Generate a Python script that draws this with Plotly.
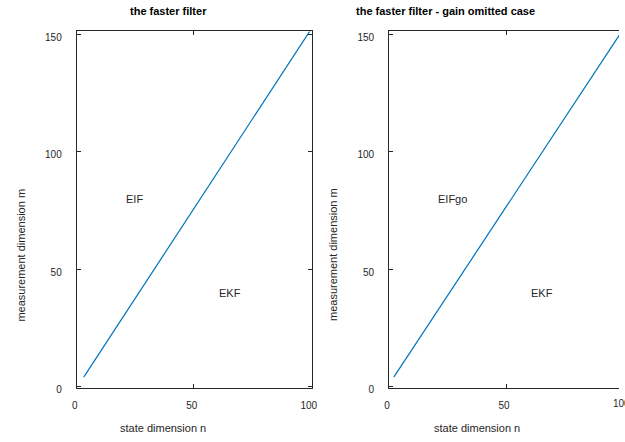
import plotly.graph_objects as go

# data
state_n = [3, 100]
meas_m = [4, 152]
state_n_go = [2, 100]
meas_m_go = [4, 152]
x_ticks = [0, 50, 100]
y_ticks = [0, 50, 100, 150]
region_labels_left = ["EIF", "EKF"]
region_labels_right = ["EIFgo", "EKF"]
label_n = [20, 60]
label_m = [80, 40]

W, H = 625, 442
def px(x):
    return x / W
def py(y):
    return 1 - y / H

TXT = "#262626"
FONT = "Liberation Sans, Arial, Helvetica, sans-serif"
BLUE = "#0072BD"

fig = go.Figure()
fig.add_trace(go.Scatter(x=state_n, y=meas_m, mode="lines",
                         line=dict(color=BLUE, width=1.2), xaxis="x", yaxis="y",
                         showlegend=False, hoverinfo="skip"))
fig.add_trace(go.Scatter(x=state_n_go, y=meas_m_go, mode="lines",
                         line=dict(color=BLUE, width=1.2), xaxis="x2", yaxis="y2",
                         showlegend=False, hoverinfo="skip"))

ax_common = dict(showgrid=False, zeroline=False, showline=True, linecolor=TXT,
                 linewidth=1, ticks="inside", ticklen=4, tickcolor=TXT,
                 tickfont=dict(family=FONT, size=10, color=TXT))

ydom = [py(394), py(32)]
fig.update_layout(
    width=W, height=H, margin=dict(l=0, r=0, t=0, b=0),
    paper_bgcolor="white", plot_bgcolor="white",
    xaxis=dict(domain=[px(73), px(312)], range=[0, 100.3], tickvals=x_ticks,
               mirror="ticks", anchor="y", ticklabelstandoff=8, ticklabelshift=-2,
               **ax_common),
    yaxis=dict(domain=ydom, range=[-0.5, 151.2], tickvals=y_ticks,
               mirror="ticks", anchor="x", ticklabelstandoff=12, ticklabelshift=3,
               **ax_common),
    xaxis2=dict(domain=[px(391), 1.0], range=[0, 98.3], tickvals=x_ticks,
                mirror="ticks", anchor="y2", ticklabelstandoff=8, ticklabelshift=-2,
                **ax_common),
    yaxis2=dict(domain=ydom, range=[-0.5, 151.2], tickvals=y_ticks,
                mirror=False, anchor="x2", ticklabelstandoff=12, ticklabelshift=3,
                **ax_common),
)

ann = []
# titles
ann.append(dict(text="<b>the faster filter</b>", x=px(166), y=py(11), xref="paper", yref="paper",
                showarrow=False, xanchor="center", yanchor="middle",
                font=dict(family=FONT, size=11, color="black")))
ann.append(dict(text="<b>the faster filter - gain omitted case</b>", x=px(448.5), y=py(11),
                xref="paper", yref="paper", showarrow=False, xanchor="center", yanchor="middle",
                font=dict(family=FONT, size=11, color="black")))
# axis titles
for cx in (161, 480):
    ann.append(dict(text="state dimension n", x=px(cx), y=py(435), xref="paper", yref="paper",
                    showarrow=False, xanchor="center", yanchor="middle",
                    font=dict(family=FONT, size=11, color=TXT)))
for cx in (16, 334):
    ann.append(dict(text="measurement dimension m", x=px(cx), y=py(259), xref="paper", yref="paper",
                    showarrow=False, xanchor="center", yanchor="middle", textangle=-90,
                    font=dict(family=FONT, size=11, color=TXT)))
# region labels
for t, n, m in zip(region_labels_left, label_n, label_m):
    ann.append(dict(text=t, x=n, y=m, xref="x", yref="y", showarrow=False,
                    xanchor="left", yanchor="middle", font=dict(family=FONT, size=11, color=TXT)))
for t, n, m in zip(region_labels_right, label_n, label_m):
    ann.append(dict(text=t, x=n, y=m, xref="x2", yref="y2", showarrow=False,
                    xanchor="left", yanchor="middle", font=dict(family=FONT, size=11, color=TXT)))
# clipped 100 tick label of right plot (tick 100 lies just past the window edge)
x2_len = (625 - 391) / W
x2_range_max = 98.3
tick100_paper = px(391) + x2_len * 100 / x2_range_max - px(2)
ann.append(dict(text="100", x=tick100_paper, y=py(410), xref="paper", yref="paper",
                showarrow=False, xanchor="center", yanchor="middle",
                font=dict(family=FONT, size=10, color=TXT)))
fig.update_layout(annotations=ann)

fig.write_html("out.html", config={"displayModeBar": False},
               post_script="document.body.style.margin='0';document.body.style.overflow='hidden';")
